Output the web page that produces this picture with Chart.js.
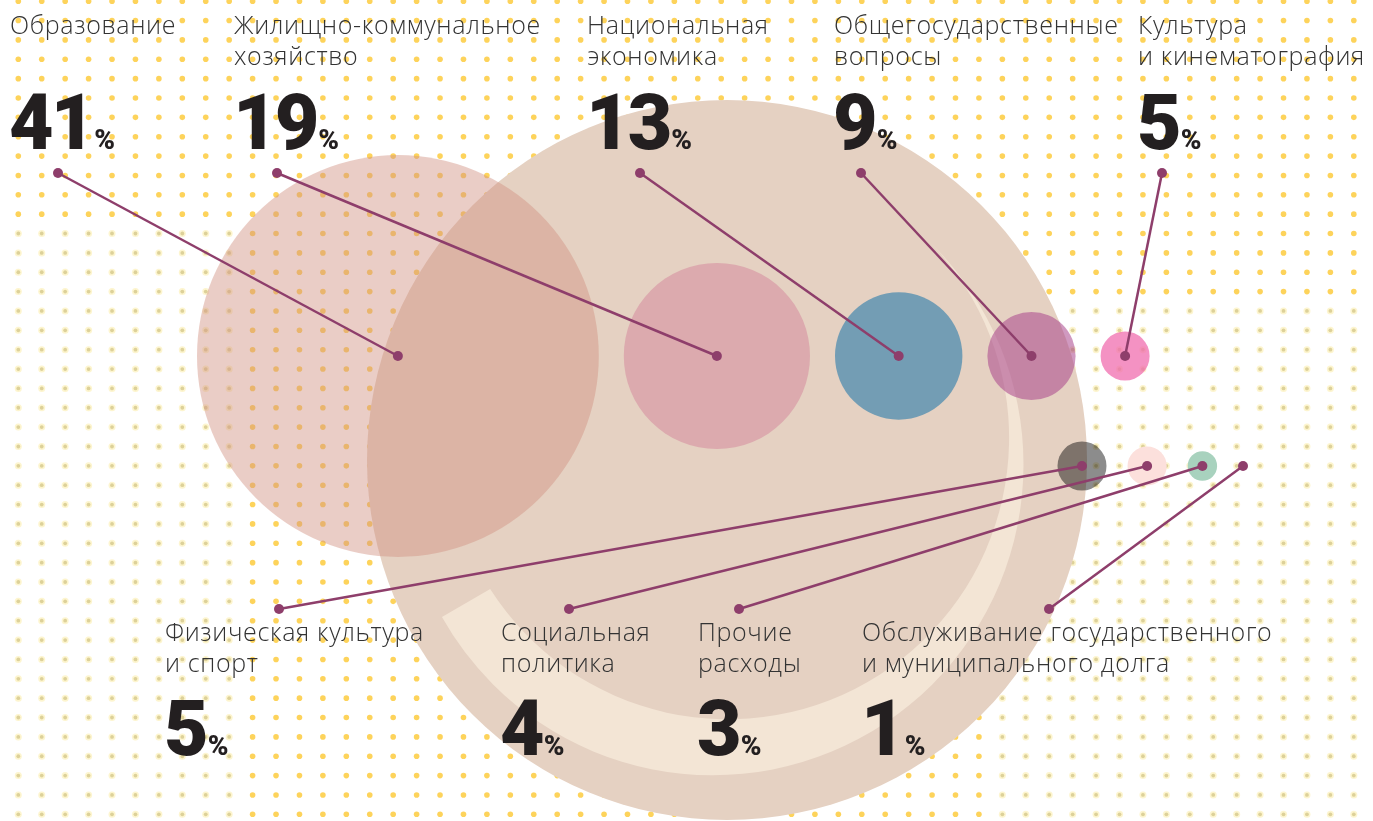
<!DOCTYPE html>
<html>
<head>
<meta charset="utf-8">
<script src="https://cdn.jsdelivr.net/npm/chart.js@4/dist/chart.umd.min.js"></script>
<style>
html,body{margin:0;padding:0;background:#fff;overflow:hidden;}
#wrap{width:1373px;height:821px;position:relative;}
</style>
</head>
<body>
<div id="wrap"><canvas id="c"></canvas></div>
<script>
// ---------------- DATA ----------------
const categories = [
  "Образование",
  "Жилищно-коммунальное хозяйство",
  "Национальная экономика",
  "Общегосударственные вопросы",
  "Культура и кинематография",
  "Физическая культура и спорт",
  "Социальная политика",
  "Прочие расходы",
  "Обслуживание государственного и муниципального долга"
];
const labelLines = [
  ["Образование"],
  ["Жилищно-коммунальное", "хозяйство"],
  ["Национальная", "экономика"],
  ["Общегосударственные", "вопросы"],
  ["Культура", "и кинематография"],
  ["Физическая культура", "и спорт"],
  ["Социальная", "политика"],
  ["Прочие", "расходы"],
  ["Обслуживание государственного", "и муниципального долга"]
];
const shares = [41, 19, 13, 9, 5, 5, 4, 3, 1];
const percentSign = "%";

// ---------------- LAYOUT / STYLE ----------------
const W = 1373, H = 821;
const rowOf = [0, 0, 0, 0, 0, 1, 1, 1, 1];
const R_PER_PERCENT = 4.9;
const ROW_Y = [356, 466];
const ROW_START = [197, 1057.5];   // left edge of first bubble in a row
const ROW_GAP = [25, 21];
const labelX = [10, 234, 587, 834, 1138, 165, 501, 698, 862];
const labelBase = [34, 641];
const numberBase = [148.5, 755];
const anchorX = [58, 277, 640, 861, 1162, 279, 569, 739, 1049];
const anchorY = [173, 609];
const bubbleColors = [
  'rgba(209,146,131,0.46)', '#dcaaae', '#739db4', 'rgba(170,70,140,0.55)', 'rgba(240,110,175,0.75)',
  '#8c8c8c', '#fce0dc', '#a8d2be', 'rgba(0,0,0,0)'
];
const bubbleBlend = [null, null, null, null, null, 'multiply', null, null, null];
const LINE_COLOR = '#8e3e6b';

// bubble centres derived from values (packed in rows)
const centers = [];
const cursor = [null, null];
shares.forEach((v, i) => {
  const row = rowOf[i];
  const r = v * R_PER_PERCENT;
  const x = cursor[row] === null ? ROW_START[row] + r : cursor[row].x + cursor[row].r + ROW_GAP[row] + r;
  cursor[row] = { x, r };
  centers.push({ x, y: ROW_Y[row], r });
});

const datasets = [];
shares.forEach((v, i) => {
  datasets.push({
    type: 'line',
    label: categories[i] + ' link',
    data: [{ x: anchorX[i], y: anchorY[rowOf[i]] }, { x: centers[i].x, y: centers[i].y }],
    borderColor: LINE_COLOR,
    borderWidth: 2.5,
    pointRadius: 5,
    pointBackgroundColor: LINE_COLOR,
    pointBorderWidth: 0,
    tension: 0,
    fill: false,
    order: 0,
    clip: false
  });
});
shares.forEach((v, i) => {
  datasets.push({
    type: 'bubble',
    label: categories[i],
    data: [{ x: centers[i].x, y: centers[i].y, r: centers[i].r }],
    backgroundColor: bubbleColors[i],
    borderWidth: 0,
    hoverRadius: 0,
    order: 1,
    clip: false,
    blend: bubbleBlend[i]
  });
});

// ---------------- PLUGINS ----------------
const backgroundPlugin = {
  id: 'bg',
  beforeDatasetsDraw(chart) {
    const ctx = chart.ctx;
    const xs = chart.scales.x, ys = chart.scales.y;
    const px = v => xs.getPixelForValue(v), py = v => ys.getPixelForValue(v);
    ctx.save();
    // dot grid
    const faded = (x, y) => (x < 234 && y > 220) || (x > 985 && y > 305);
    for (let y = 1.2; y < H + 2; y += 19.36) {
      for (let x = 18.3; x < W + 2; x += 23.43) {
        if (faded(x, y)) {
          ctx.fillStyle = 'rgba(252,235,160,0.5)';
          ctx.beginPath(); ctx.arc(px(x), py(y), 3.5, 0, Math.PI * 2); ctx.fill();
          ctx.fillStyle = 'rgba(205,190,125,0.65)';
          ctx.beginPath(); ctx.arc(px(x), py(y), 1.9, 0, Math.PI * 2); ctx.fill();
        } else {
          ctx.fillStyle = '#fdd35b';
          ctx.beginPath(); ctx.arc(px(x), py(y), 2.8, 0, Math.PI * 2); ctx.fill();
        }
      }
    }
    // big beige circle
    ctx.fillStyle = '#e5d1c2';
    ctx.beginPath(); ctx.arc(px(727), py(460), 360, 0, Math.PI * 2); ctx.fill();
    // light crescent ring
    const d2r = Math.PI / 180;
    ctx.fillStyle = '#f3e5d5';
    ctx.beginPath();
    ctx.arc(px(712.7), py(464.5), 310.8, -44.9 * d2r, 150.6 * d2r, false);
    ctx.arc(px(727.6), py(437.8), 281.5, 147.5 * d2r, -43.2 * d2r, true);
    ctx.closePath();
    ctx.fill();
    ctx.restore();
  },
  beforeDatasetDraw(chart, args) {
    const ds = chart.data.datasets[args.index];
    if (ds.blend) { chart.ctx.save(); chart.ctx.globalCompositeOperation = ds.blend; }
  },
  afterDatasetDraw(chart, args) {
    const ds = chart.data.datasets[args.index];
    if (ds.blend) { chart.ctx.restore(); }
  }
};

const textPlugin = {
  id: 'texts',
  afterDatasetsDraw(chart) {
    const ctx = chart.ctx;
    const xs = chart.scales.x, ys = chart.scales.y;
    ctx.save();
    ctx.textBaseline = 'alphabetic';
    ctx.textAlign = 'left';
    shares.forEach((v, i) => {
      const row = rowOf[i];
      const x = xs.getPixelForValue(labelX[i]);
      ctx.font = '300 25px "Open Sans"';
      ctx.fillStyle = '#333333';
      ctx.letterSpacing = '0.65px';
      labelLines[i].forEach((line, k) => {
        ctx.fillText(line, x, ys.getPixelForValue(labelBase[row] + k * 31));
      });
      const nb = ys.getPixelForValue(numberBase[row]);
      ctx.font = '900 77px Roboto';
      ctx.letterSpacing = '-3px';
      ctx.fillStyle = '#231f20';
      const txt = String(v);
      ctx.fillText(txt, x - 1, nb);
      const w = ctx.measureText(txt).width;
      ctx.font = '900 28px Roboto';
      ctx.letterSpacing = '0px';
      ctx.fillText(percentSign, x + w + 1, nb);
    });
    ctx.restore();
  }
};

function build() {
  new Chart(document.getElementById('c'), {
    type: 'bubble',
    data: { datasets },
    options: {
      responsive: true,
      maintainAspectRatio: false,
      animation: false,
      events: [],
      layout: { padding: 0, autoPadding: false },
      plugins: { legend: { display: false }, tooltip: { enabled: false } },
      scales: {
        x: { type: 'linear', min: 0, max: W, display: false },
        y: { type: 'linear', min: 0, max: H, reverse: true, display: false }
      }
    },
    plugins: [backgroundPlugin, textPlugin]
  });
}
const fontLoads = ['300 25px "Open Sans"', '900 77px Roboto'].map(f => document.fonts.load(f).catch(() => null));
Promise.race([Promise.all(fontLoads), new Promise(r => setTimeout(r, 800))]).then(build);
</script>
</body>
</html>
